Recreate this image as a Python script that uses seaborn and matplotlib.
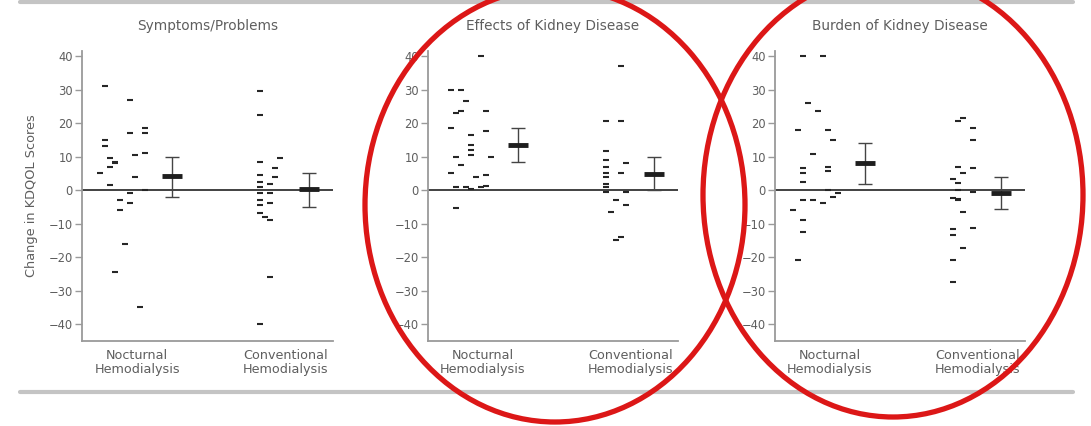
import numpy as np
import pandas as pd
import matplotlib
matplotlib.use("Agg")
import matplotlib.pyplot as plt
from matplotlib.patches import Ellipse
from matplotlib.lines import Line2D
import seaborn as sns

# ---------------- data ----------------
titles = ["Symptoms/Problems", "Effects of Kidney Disease", "Burden of Kidney Disease"]
groups = ["Nocturnal\nHemodialysis", "Conventional\nHemodialysis"]
y_label = "Change in KDQOL Scores"
y_ticks = [40, 30, 20, 10, 0, -10, -20, -30, -40]

# individual changes (value) and the strip sub-column (slot) they sit in
sym_noc_vals = [5, 31, 15, 13, 9.5, 1.5, 7, 8, 8.5, -24.5, -3, -6, -16, 27, 17, -1, -4, 10.5, 4, -35, 18.5, 17, 11, 0]
sym_noc_slot = [0, 1, 1, 1, 2, 2, 2, 3, 3, 3, 4, 4, 5, 6, 6, 6, 6, 7, 7, 8, 9, 9, 9, 9]
sym_conv_vals = [29.5, 22.5, 8.5, 4.5, 2.5, 1, -1, -3, -4.5, -7, -40, -8, 1.8, -1, -4, -9, -26, 6.5, 4, 9.5]
sym_conv_slot = [0, 0, 0, 0, 0, 0, 0, 0, 0, 0, 0, 1, 2, 2, 2, 2, 2, 3, 3, 4]

eff_noc_vals = [30, 18.5, 5, 23, 10, 1, -5.5, 23.5, 30, 7.5, 26.5, 1, 13.5, 12, 10.5, 16.5, 0.2, 4, 1, 40, 23.5, 17.5, 4.5, 1.2, 10]
eff_noc_slot = [1, 1, 1, 2, 2, 2, 2, 3, 3, 3, 4, 4, 5, 5, 5, 5, 5, 6, 7, 7, 8, 8, 8, 8, 9]
eff_conv_vals = [20.5, 11.5, 9, 7, 5, 4, 1.8, 1, -0.5, -6.5, -3, -15, -14, 37, 20.5, 5, 8, -0.5, -4.5]
eff_conv_slot = [0, 0, 0, 0, 0, 0, 0, 0, 0, 1, 2, 2, 3, 3, 3, 3, 4, 4, 4]

bur_noc_vals = [-6, 18, -21, 40, 2.5, -3, -9, -12.5, 6.7, 5, 26, 10.7, -3, 23.5, 40, -4, 18, 0, 7, 5.7, 15, -2, -1]
bur_noc_slot = [0, 1, 1, 2, 2, 2, 2, 2, 2, 2, 3, 4, 4, 5, 6, 6, 7, 7, 7, 7, 8, 8, 9]
bur_conv_vals = [3.2, -2.5, -11.7, -13.3, -21, -27.5, 7, 2, -3, 20.5, -2.7, 0, -6.7, 21.5, 5, -17.3, 15, -11.4, 6.5, -0.5, 18.5]
bur_conv_slot = [0, 0, 0, 0, 0, 0, 1, 1, 1, 1, 1, 1, 2, 2, 2, 2, 4, 4, 4, 4, 4]

# group mean with error bar (low / high)
noc_mean = [4.2, 13.4, 8.1]
noc_low = [-2.0, 8.4, 1.8]
noc_high = [9.9, 18.4, 14.1]
conv_mean = [0.4, 4.8, -0.8]
conv_low = [-5.1, 0.0, -5.8]
conv_high = [5.1, 9.9, 4.0]

# ---------------- tidy table ----------------
sets = [
    (0, 0, sym_noc_vals, sym_noc_slot), (0, 1, sym_conv_vals, sym_conv_slot),
    (1, 0, eff_noc_vals, eff_noc_slot), (1, 1, eff_conv_vals, eff_conv_slot),
    (2, 0, bur_noc_vals, bur_noc_slot), (2, 1, bur_conv_vals, bur_conv_slot),
]
rows = []
for p, g, vals, slots in sets:
    for v, s in zip(vals, slots):
        rows.append({"panel": p, "group": g, "value": v, "slot": s})
df = pd.DataFrame(rows)

strip_base = {0: 0.7, 1: 7.1}
slot_step = 0.2
mean_pos = {0: 3.6, 1: 9.05}
label_pos = [2.2, 8.1]
df["x"] = df["group"].map(strip_base) + df["slot"] * slot_step

summ = pd.DataFrame({
    "panel": [0, 1, 2, 0, 1, 2],
    "group": [0, 0, 0, 1, 1, 1],
    "mean": noc_mean + conv_mean,
    "low": noc_low + conv_low,
    "high": noc_high + conv_high,
})
summ["x"] = summ["group"].map(mean_pos)

# ---------------- style ----------------
sns.set_theme(style="white")
plt.rcParams["font.family"] = ["DejaVu Sans"]
text_col = "#5e5e5e"
spine_col = "#9a9a9a"

W, H = 1091, 426
fig = plt.figure(figsize=(W / 100, H / 100), dpi=100)

lefts = [82, 428, 775]
widths = [251, 250, 250]
ax_top_px, ax_bot_px = 51, 340.75

for p in range(3):
    ax = fig.add_axes([lefts[p] / W, (H - ax_bot_px) / H, widths[p] / W, (ax_bot_px - ax_top_px) / H])
    sub = df[df["panel"] == p]
    sns.scatterplot(data=sub, x="x", y="value", marker="_", s=24, color="#262626",
                    linewidth=1.5, ax=ax, legend=False, zorder=3)
    ax.axhline(0, color="#333333", lw=1.3, zorder=2)
    sm = summ[summ["panel"] == p]
    ax.errorbar(sm["x"], sm["mean"], yerr=[sm["mean"] - sm["low"], sm["high"] - sm["mean"]],
                fmt="none", ecolor="#444444", elinewidth=1.0, capsize=5, capthick=1.0, zorder=4)
    sns.scatterplot(data=sm, x="x", y="mean", marker="_", s=200, color="#1e1e1e",
                    linewidth=3.5, ax=ax, legend=False, zorder=5)
    ax.set_xlim(0, 10)
    ax.set_ylim(-45, 41.5)
    ax.set_yticks(y_ticks)
    ax.set_xticks(label_pos)
    ax.set_xticklabels(groups, fontsize=9.2, color=text_col, linespacing=1.05)
    ax.tick_params(axis="x", length=0, pad=6)
    ax.tick_params(axis="y", direction="out", length=5, width=1, color=spine_col,
                   labelsize=8.3, labelcolor=text_col, pad=1.5, left=True)
    for side in ["top", "right"]:
        ax.spines[side].set_visible(False)
    for side in ["left", "bottom"]:
        ax.spines[side].set_color(spine_col)
        ax.spines[side].set_linewidth(1.3)
    ax.set_xlabel("")
    ax.set_ylabel(y_label if p == 0 else "", fontsize=9.3, color=text_col, labelpad=8)
    ax.text(0.5, 1 + 25 / (ax_bot_px - ax_top_px), titles[p], transform=ax.transAxes,
            ha="center", va="center", fontsize=9.8, color=text_col)

# horizontal rules top and bottom
for ypx in [2, 392]:
    fig.add_artist(Line2D([20 / W, 1073 / W], [1 - ypx / H] * 2, transform=fig.transFigure,
                          color="#c4c4c4", lw=3))

# red annotation ellipses
for cx, cy, ew, eh in [(555, 205, 380, 434), (893, 195, 380, 444)]:
    fig.add_artist(Ellipse((cx / W, 1 - cy / H), ew / W, eh / H, transform=fig.transFigure,
                           fill=False, edgecolor="#dc1717", lw=3.8, zorder=20))

fig.savefig("out.png", dpi=100)
